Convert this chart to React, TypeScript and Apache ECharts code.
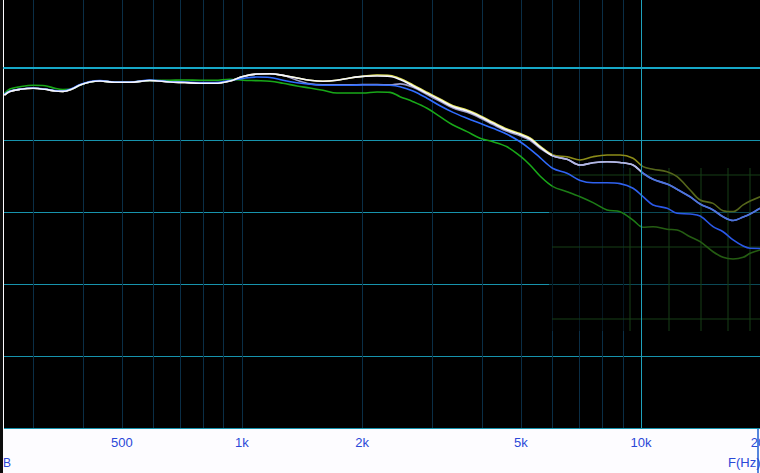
import React, { useEffect, useRef } from 'react';
import * as echarts from 'echarts';

// Frequency sample points (Hz)
const freqHz = [254, 262, 278, 300, 321, 340, 356, 375, 393, 416, 441, 480, 524, 588, 660, 720, 785, 856, 933, 1006, 1090, 1175, 1267, 1374, 1480, 1596, 1730, 1865, 2010, 2180, 2350, 2489, 2683, 2909, 3135, 3380, 3664, 3950, 4257, 4615, 4975, 5270, 5583, 6018, 6523, 7034, 7580, 8218, 8858, 9548, 10116, 10717, 11620, 12310, 13270, 14060, 15150, 16050, 17010, 18020, 18760, 19870];

// Levels (dB)
const whiteDb = [-1.88, -1.63, -1.48, -1.41, -1.48, -1.60, -1.62, -1.46, -1.18, -0.97,
  -0.90, -0.99, -0.99, -0.87, -0.97, -1.01, -1.06, -1.06, -0.90, -0.59,
  -0.42, -0.40, -0.51, -0.69, -0.85, -0.92, -0.85, -0.69, -0.58, -0.56,
  -0.59, -0.80, -1.25, -1.76, -2.22, -2.69, -2.99, -3.38, -3.84, -4.31,
  -4.62, -4.93, -5.49, -6.11, -6.34, -6.74, -6.58, -6.51, -6.56, -6.74,
  -7.31, -7.73, -8.06, -8.42, -8.94, -9.44, -9.86, -10.33, -10.59, -10.35,
  -10.14, -9.74];

const yellowDb = [-1.88, -1.63, -1.48, -1.41, -1.48, -1.60, -1.62, -1.46, -1.18, -0.97,
  -0.90, -0.99, -0.99, -0.87, -0.97, -1.01, -1.06, -1.06, -0.90, -0.59,
  -0.42, -0.40, -0.51, -0.69, -0.85, -0.92, -0.85, -0.69, -0.58, -0.49,
  -0.52, -0.73, -1.18, -1.69, -2.15, -2.62, -2.92, -3.31, -3.77, -4.24,
  -4.55, -4.86, -5.42, -6.04, -6.16, -6.39, -6.16, -6.04, -6.04, -6.27,
  -6.85, -7.03, -7.20, -7.55, -8.47, -9.17, -9.40, -9.91, -9.97, -9.51,
  -9.24, -8.94];

const lavenderDb = [-1.88, -1.63, -1.48, -1.41, -1.48, -1.60, -1.62, -1.46, -1.18, -0.97,
  -0.90, -0.99, -0.99, -0.87, -0.97, -1.01, -1.06, -1.06, -0.90, -0.59,
  -0.42, -0.40, -0.51, -0.85, -1.10, -1.17, -1.17, -1.17, -1.15, -1.15,
  -1.17, -1.10, -1.34, -1.85, -2.31, -2.78, -3.08, -3.47, -3.93, -4.40,
  -4.71, -5.02, -5.58, -6.11, -6.34, -6.74, -6.58, -6.51, -6.56, -6.74,
  -7.31, -7.73, -8.06, -8.42, -8.94, -9.44, -9.86, -10.33, -10.59, -10.35,
  -10.14, -9.74];

const blueDb = [-1.81, -1.60, -1.46, -1.39, -1.46, -1.56, -1.60, -1.42, -1.15, -0.94,
  -0.87, -0.97, -0.97, -0.83, -0.95, -0.97, -1.01, -1.01, -0.87, -0.72,
  -0.63, -0.66, -0.85, -1.02, -1.13, -1.20, -1.20, -1.20, -1.18, -1.18,
  -1.20, -1.30, -1.60, -2.10, -2.62, -3.08, -3.49, -3.84, -4.19, -4.60,
  -5.12, -5.63, -6.22, -6.98, -7.31, -7.81, -7.97, -7.97, -8.03, -8.35,
  -8.94, -9.51, -9.74, -10.09, -10.14, -10.28, -11.02, -11.37, -11.94, -12.36,
  -12.52, -12.53];

const greenDb = [-1.77, -1.46, -1.30, -1.20, -1.23, -1.41, -1.49, -1.46, -1.18, -0.97,
  -0.90, -0.97, -0.97, -0.87, -0.85, -0.83, -0.85, -0.85, -0.78, -0.85,
  -0.88, -0.92, -1.06, -1.25, -1.39, -1.55, -1.74, -1.74, -1.74, -1.67,
  -1.69, -1.99, -2.34, -2.80, -3.38, -3.96, -4.42, -4.88, -5.12, -5.47,
  -6.11, -6.74, -7.50, -8.24, -8.59, -8.94, -9.35, -9.86, -9.98, -10.56,
  -11.06, -11.02, -11.20, -11.25, -11.72, -12.06, -12.76, -13.15, -13.26, -13.15,
  -12.87, -12.64];

// Axis ticks
const gridFreqs = [300, 400, 500, 600, 700, 800, 900, 1000, 2000, 3000, 4000, 5000, 6000, 7000, 8000, 9000, 10000, 20000];
const labelFreqs = [500, 1000, 2000, 5000, 10000, 20000];
const highlightFreqs = [10000];

const W = 760;

function grad(c1: string, c2: string, c3: string) {
  return {
    type: 'linear', x: 0, y: 0, x2: W, y2: 0, global: true,
    colorStops: [
      { offset: 0, color: c1 }, { offset: 0.726, color: c1 },
      { offset: 0.7265, color: c2 }, { offset: 0.843, color: c2 },
      { offset: 0.8435, color: c3 }, { offset: 1, color: c3 },
    ],
  };
}

function pairs(ys: number[]) {
  return freqHz.map((f, i) => [f, ys[i]]);
}

function lineSeries(name: string, ys: number[], color: any, base: string, extra: any = {}) {
  return {
    name, type: 'line', data: pairs(ys), showSymbol: false, symbol: 'none',
    smooth: 0.35, silent: true, clip: true,
    itemStyle: { color: base },
    lineStyle: { width: 1.6, color },
    ...extra,
  };
}

export default function App() {
  const ref = useRef<HTMLDivElement>(null);
  useEffect(() => {
    if (!ref.current) return;
    const chart = echarts.init(ref.current, undefined, { renderer: 'svg' });
    const greenGrid = '#173f17';
    const option: any = {
      animation: false,
      backgroundColor: '#fdfcff',
      grid: {
        left: 4, right: -1.2, top: -4, bottom: 45,
        outerBoundsMode: 'none', containLabel: false,
        show: true, backgroundColor: '#000000', borderWidth: 0,
      },
      xAxis: {
        type: 'log', logBase: 10, min: 253.4, max: 20000,
        axisLine: { show: true, lineStyle: { color: '#16a8c8', width: 2 } },
        axisTick: { show: false, customValues: gridFreqs },
        axisLabel: {
          show: true, customValues: labelFreqs, margin: 8,
          color: '#2a48d8', fontSize: 13, fontFamily: 'Liberation Sans, Arial, sans-serif',
          showMaxLabel: true, showMinLabel: true, hideOverlap: false,
          formatter: (v: number) => (v >= 1000 ? v / 1000 + 'k' : String(v)),
        },
        splitLine: { show: true, lineStyle: { color: '#0a2e46', width: 1 } },
        minorTick: { show: false },
        minorSplitLine: { show: false },
      },
      yAxis: {
        type: 'value', min: -25, max: 5, interval: 5,
        axisLine: { show: false }, axisTick: { show: false }, axisLabel: { show: false },
        splitLine: { show: true, lineStyle: { color: '#1793ad', width: 1 } },
      },
      series: [
        lineSeries('yellow', yellowDb, grad('#e6e65a', '#8c8c18', '#55661a'), '#e6e65a', {
          markLine: {
            silent: true, symbol: ['none', 'none'], label: { show: false },
            lineStyle: { color: '#1fa2bd', width: 1, type: 'solid' },
            data: highlightFreqs.map((f) => ({ xAxis: f })),
          },
        }),
        lineSeries('green', greenDb, grad('#18a818', '#1c7c16', '#245c12'), '#18a818'),
        lineSeries('lavender', lavenderDb, grad('#9c9cc8', '#b4b8e6', '#4f74dc'), '#9c9cc8'),
        lineSeries('blue', blueDb, grad('#2f6cff', '#2f62f0', '#2a58e8'), '#2f6cff'),
        lineSeries('white', whiteDb, grad('#f6f6ff', '#b4b8e6', '#4f74dc'), '#f6f6ff'),
      ],
      graphic: [
        { type: 'rect', z: 1, silent: true, shape: { x: 549, y: 168, width: 211, height: 163 }, style: { fill: 'rgba(0,0,0,0.5)' } },
        { type: 'line', z: 1, silent: true, shape: { x1: 552, y1: 175, x2: 760, y2: 175 }, style: { stroke: greenGrid, lineWidth: 1 } },
        { type: 'line', z: 1, silent: true, shape: { x1: 552, y1: 247, x2: 760, y2: 247 }, style: { stroke: greenGrid, lineWidth: 1 } },
        { type: 'line', z: 1, silent: true, shape: { x1: 552, y1: 319, x2: 760, y2: 319 }, style: { stroke: greenGrid, lineWidth: 1 } },
        { type: 'line', z: 1, silent: true, shape: { x1: 630, y1: 168, x2: 630, y2: 331 }, style: { stroke: greenGrid, lineWidth: 1 } },
        { type: 'line', z: 1, silent: true, shape: { x1: 669, y1: 168, x2: 669, y2: 331 }, style: { stroke: greenGrid, lineWidth: 1 } },
        { type: 'line', z: 1, silent: true, shape: { x1: 701, y1: 168, x2: 701, y2: 331 }, style: { stroke: greenGrid, lineWidth: 1 } },
        { type: 'line', z: 1, silent: true, shape: { x1: 728, y1: 168, x2: 728, y2: 331 }, style: { stroke: greenGrid, lineWidth: 1 } },
        { type: 'line', z: 1, silent: true, shape: { x1: 750, y1: 168, x2: 750, y2: 331 }, style: { stroke: greenGrid, lineWidth: 1 } },
        { type: 'line', z: 5, silent: true, shape: { x1: 758, y1: 429, x2: 758, y2: 473 }, style: { stroke: '#1f5fd0', lineWidth: 1.5 } },
        { type: 'text', z: 5, silent: true, x: 728, y: 456, style: { text: 'F(Hz)', fill: '#2a48d8', font: '13px "Liberation Sans", Arial, sans-serif' } },
        { type: 'text', z: 5, silent: true, x: 3, y: 457, style: { text: 'B', fill: '#2a48d8', font: '12px "Liberation Sans", Arial, sans-serif' } },
        { type: 'rect', z: 10, silent: true, shape: { x: 0, y: 0, width: 3, height: 473 }, style: { fill: '#0c0c0c' } },
      ],
    };
    chart.setOption(option);
    return () => chart.dispose();
  }, []);
  return (
    <div
      ref={ref}
      style={{ position: 'fixed', left: 0, top: 0, width: 760, height: 473 }}
    />
  );
}
